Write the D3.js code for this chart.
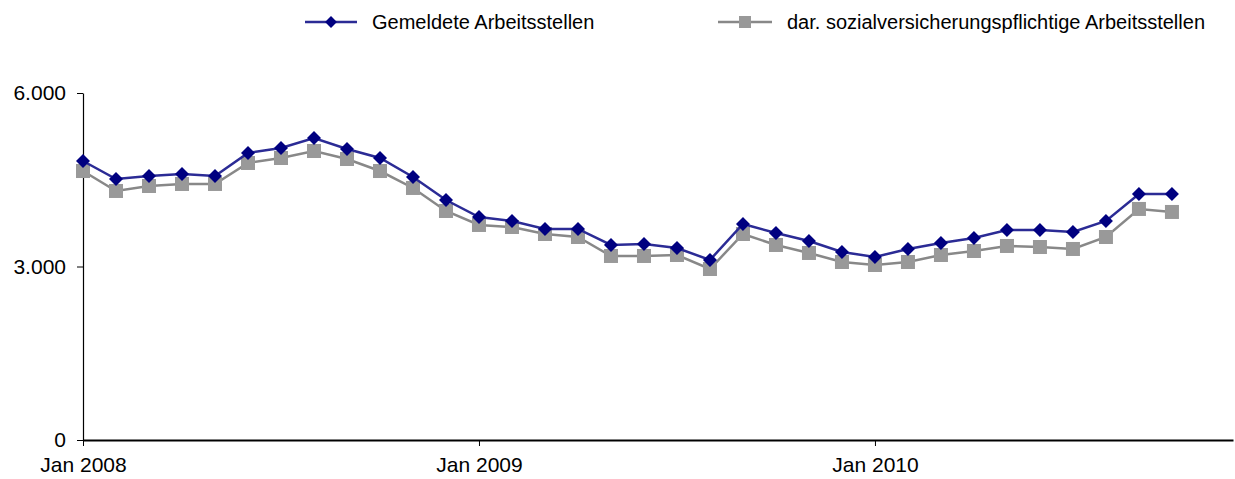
<!DOCTYPE html>
<html>
<head>
<meta charset="utf-8">
<script src="https://cdn.jsdelivr.net/npm/d3@7"></script>
<style>
  body { margin: 0; background: #fff; }
  svg { display: block; }
  text { font-family: "Liberation Sans", Arial, sans-serif; fill: #000; }
</style>
</head>
<body>
<svg id="chart" width="1235" height="479"></svg>
<script>
// Monthly data, Jan 2008 – Oct 2010
const months = [
  "Jan 2008","Feb 2008","Mär 2008","Apr 2008","Mai 2008","Jun 2008","Jul 2008","Aug 2008","Sep 2008","Okt 2008","Nov 2008","Dez 2008",
  "Jan 2009","Feb 2009","Mär 2009","Apr 2009","Mai 2009","Jun 2009","Jul 2009","Aug 2009","Sep 2009","Okt 2009","Nov 2009","Dez 2009",
  "Jan 2010","Feb 2010","Mär 2010","Apr 2010","Mai 2010","Jun 2010","Jul 2010","Aug 2010","Sep 2010","Okt 2010"
];
const gemeldete = [
  4824, 4513, 4565, 4600, 4565, 4963, 5049, 5222, 5032, 4876, 4548, 4150,
  3856, 3787, 3649, 3649, 3372, 3389, 3320, 3113, 3735, 3579, 3441, 3251,
  3164, 3303, 3407, 3493, 3631, 3631, 3597, 3787, 4254, 4254
];
const svPflichtig = [
  4651, 4306, 4392, 4427, 4427, 4790, 4876, 4997, 4859, 4651, 4358, 3960,
  3718, 3683, 3562, 3510, 3182, 3182, 3199, 2957, 3562, 3372, 3234, 3078,
  3026, 3078, 3199, 3268, 3355, 3337, 3303, 3510, 3995, 3943
];
const seriesNames = ["Gemeldete Arbeitsstellen", "dar. sozialversicherungspflichtige Arbeitsstellen"];
const xTickIndex = [0, 12, 24];
const xTickLabels = ["Jan 2008", "Jan 2009", "Jan 2010"];
const yTicks = [0, 3000, 6000];
const yTickLabels = ["0", "3.000", "6.000"];

const svg = d3.select("#chart");
const x = d3.scaleLinear().domain([0, 34.85]).range([83, 1233]);
const y = d3.scaleLinear().domain([0, 6000]).range([440, 93]);

const blueLine = "#2b2b95", blueMark = "#000080";
const grayLine = "#888888", grayMark = "#999999";

// Y axis
const yAxis = d3.axisLeft(y).tickValues(yTicks)
  .tickFormat((d) => yTickLabels[yTicks.indexOf(d)])
  .tickSize(6).tickPadding(11).tickSizeOuter(0);
const gy = svg.append("g").attr("transform", "translate(83,0)").call(yAxis);
gy.select(".domain").attr("stroke", "#000").attr("stroke-width", 1.2);
gy.selectAll(".tick line").attr("stroke", "#000");
gy.selectAll(".tick text").style("font-size", "21px").attr("font-family", null);

// X axis
const xAxis = d3.axisBottom(x).tickValues(xTickIndex)
  .tickFormat(d => xTickLabels[xTickIndex.indexOf(d)])
  .tickSize(6).tickPadding(11).tickSizeOuter(0);
const gx = svg.append("g").attr("transform", "translate(0,440)").call(xAxis);
gx.select(".domain").attr("stroke", "#000").attr("stroke-width", 2);
gx.selectAll(".tick line").attr("stroke", "#000");
gx.selectAll(".tick text").style("font-size", "21px").attr("font-family", null);

const line = d3.line().x((d, i) => x(i)).y(d => y(d));

// Gray series
svg.append("path").datum(svPflichtig).attr("d", line)
  .attr("fill", "none").attr("stroke", grayLine).attr("stroke-width", 2.5);
svg.selectAll("rect.sq").data(svPflichtig).enter().append("rect")
  .attr("class", "sq")
  .attr("x", (d, i) => x(i) - 7).attr("y", d => y(d) - 7)
  .attr("width", 14).attr("height", 14).attr("fill", grayMark);

// Blue series
svg.append("path").datum(gemeldete).attr("d", line)
  .attr("fill", "none").attr("stroke", blueLine).attr("stroke-width", 2.5);
const diamond = d3.symbol().type(d3.symbolDiamond2).size(125);
svg.selectAll("path.dm").data(gemeldete).enter().append("path")
  .attr("class", "dm")
  .attr("transform", (d, i) => `translate(${x(i)},${y(d)})`)
  .attr("d", diamond).attr("fill", blueMark);

// Legend
const lg = svg.append("g");
lg.append("line").attr("x1", 305).attr("x2", 357).attr("y1", 22).attr("y2", 22)
  .attr("stroke", blueLine).attr("stroke-width", 2.5);
lg.append("path").attr("transform", "translate(331,22)").attr("d", d3.symbol().type(d3.symbolDiamond2).size(90)).attr("fill", blueMark);
lg.append("text").attr("x", 372).attr("y", 29).style("font-size", "20px").text(seriesNames[0]);

lg.append("line").attr("x1", 718).attr("x2", 772).attr("y1", 22).attr("y2", 22)
  .attr("stroke", grayLine).attr("stroke-width", 2.5);
lg.append("rect").attr("x", 739).attr("y", 16).attr("width", 12).attr("height", 12).attr("fill", grayMark);
lg.append("text").attr("x", 787).attr("y", 29).style("font-size", "20px").text(seriesNames[1]);
</script>
</body>
</html>
